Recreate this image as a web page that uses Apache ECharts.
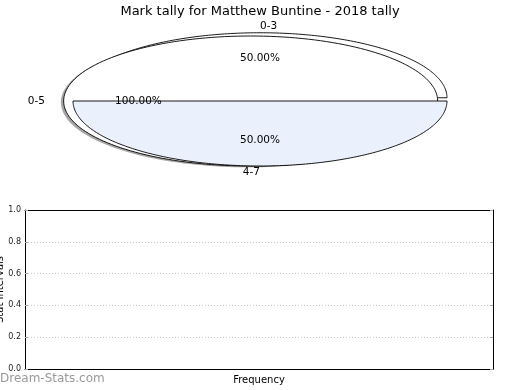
<!DOCTYPE html>
<html>
<head>
<meta charset="utf-8">
<script src="https://cdn.jsdelivr.net/npm/echarts@6/dist/echarts.min.js"></script>
<style>
html,body{margin:0;padding:0;background:#fff;}
#chart{width:520px;height:390px;}
</style>
</head>
<body>
<div id="chart"></div>
<script>
// ---- data ----
const titleText = 'Mark tally for Matthew Buntine - 2018 tally';
const tallyLabels = ['0-3', '4-7'];
const tallyValues = [1, 1];
const totalLabels = ['0-5'];
const totalValues = [1];
const yTickValues = [0, 0.2, 0.4, 0.6, 0.8, 1.0];

// ---- build wedges (angles in degrees, counter-clockwise from 3 o'clock) ----
function buildWedges(labels, values, explodes, fills, zs, shadow) {
  const sum = values.reduce((a, b) => a + b, 0);
  let acc = 0;
  return labels.map((lab, i) => {
    const a0 = acc / sum * 360;
    acc += values[i];
    const a1 = acc / sum * 360;
    return { label: lab, pct: (values[i] / sum * 100).toFixed(2) + '%', a0, a1,
             explode: explodes[i], fill: fills[i], z: zs[i], shadow: shadow };
  });
}
const wedges = [].concat(
  buildWedges(tallyLabels, tallyValues, [0.05, 0], ['#ffffff', '#ebf1fc'], [1, 5], false),
  buildWedges(totalLabels, totalValues, [0.05], ['#ffffff'], [3], true)
);

const FONT = 'DejaVu Sans';

function renderWedge(params, api) {
  const w = wedges[api.value(0)];
  const rad = Math.PI / 180;
  const mid = (w.a0 + w.a1) / 2 * rad;
  const cx = w.explode * Math.cos(mid), cy = w.explode * Math.sin(mid);
  const full = (w.a1 - w.a0) >= 359.999;
  function ring(dx, dy) {
    const pts = [];
    if (!full) pts.push(api.coord([cx + dx, cy + dy]));
    const n = 180;
    for (let k = 0; k <= n; k++) {
      const t = (w.a0 + (w.a1 - w.a0) * k / n) * rad;
      pts.push(api.coord([cx + dx + Math.cos(t), cy + dy + Math.sin(t)]));
    }
    return pts;
  }
  const children = [];
  if (w.shadow) {
    children.push({ type: 'polygon', z2: w.z - 1, shape: { points: ring(-0.015, -0.02) },
      style: { fill: 'rgba(77,77,77,0.5)', stroke: null } });
  }
  children.push({ type: 'polygon', z2: w.z, shape: { points: ring(0, 0) },
    style: { fill: w.fill, stroke: '#000', lineWidth: 0.9 } });
  const lp = api.coord([cx + 1.1 * Math.cos(mid), cy + 1.1 * Math.sin(mid)]);
  children.push({ type: 'text', z2: 20, x: lp[0], y: lp[1],
    style: { text: w.label, fill: '#000', font: '10.5px "' + FONT + '"',
      textAlign: Math.cos(mid) > 0 ? 'left' : 'right', textVerticalAlign: 'middle' } });
  const pp = api.coord([cx + 0.6 * Math.cos(mid), cy + 0.6 * Math.sin(mid)]);
  children.push({ type: 'text', z2: 20, x: pp[0], y: pp[1],
    style: { text: w.pct, fill: '#000', font: '10.5px "' + FONT + '"',
      textAlign: 'center', textVerticalAlign: 'middle' } });
  return { type: 'group', children: children };
}

const blackLine = { show: true, onZero: false, lineStyle: { color: '#000', width: 1 } };

const chart = echarts.init(document.getElementById('chart'), null, { renderer: 'canvas' });
chart.setOption({
  animation: false,
  backgroundColor: '#ffffff',
  textStyle: { fontFamily: FONT },
  title: {
    text: titleText, left: 'center', top: 0,
    textStyle: { fontFamily: FONT, fontSize: 13, fontWeight: 'normal', color: '#000' }
  },
  graphic: [{
    type: 'text', left: 0, top: 373,
    style: { text: 'Dream-Stats.com', fill: '#999999', font: '12px "' + FONT + '"' }
  }],
  grid: [
    { left: 73, top: 36, width: 374, height: 130, show: false, containLabel: false, outerBoundsMode: 'none' },
    { left: 25, top: 210, width: 468, height: 159, show: false, containLabel: false, outerBoundsMode: 'none' }
  ],
  xAxis: [
    { gridIndex: 0, type: 'value', min: -1, max: 1, show: false },
    { gridIndex: 1, type: 'value', min: 0, max: 1, position: 'bottom',
      name: 'Frequency', nameLocation: 'middle', nameGap: 6, nameMoveOverlap: false,
      nameTextStyle: { fontFamily: FONT, fontSize: 10, color: '#000' },
      axisLine: blackLine,
      axisTick: { show: false }, axisLabel: { show: false }, splitLine: { show: false } },
    { gridIndex: 1, type: 'value', min: 0, max: 1, position: 'top',
      axisLine: blackLine,
      axisTick: { show: false }, axisLabel: { show: false }, splitLine: { show: false } }
  ],
  yAxis: [
    { gridIndex: 0, type: 'value', min: -1, max: 1, show: false },
    { gridIndex: 1, type: 'value', min: yTickValues[0], max: yTickValues[yTickValues.length - 1],
      interval: yTickValues[1] - yTickValues[0], position: 'left',
      name: 'Stat Intervals', nameLocation: 'middle', nameGap: 20, nameRotate: 90,
      nameMoveOverlap: false,
      nameTextStyle: { fontFamily: FONT, fontSize: 10, color: '#000' },
      axisLine: blackLine,
      axisTick: { show: true, inside: true, length: 3, lineStyle: { color: '#aaa' } },
      axisLabel: { fontFamily: FONT, fontSize: 8, color: '#222', margin: 4,
        formatter: v => v.toFixed(1) },
      splitLine: { show: true, lineStyle: { color: '#c8c8c8', type: [1, 2], width: 1 } } },
    { gridIndex: 1, type: 'value', min: 0, max: 1, interval: 0.2, position: 'right',
      axisLine: blackLine,
      axisTick: { show: true, inside: true, length: 3, lineStyle: { color: '#aaa' } },
      axisLabel: { show: false }, splitLine: { show: false } }
  ],
  series: [
    { type: 'custom', coordinateSystem: 'cartesian2d', xAxisIndex: 0, yAxisIndex: 0,
      clip: false, silent: true, renderItem: renderWedge,
      data: wedges.map((w, i) => [i]) }
  ]
});
</script>
</body>
</html>
